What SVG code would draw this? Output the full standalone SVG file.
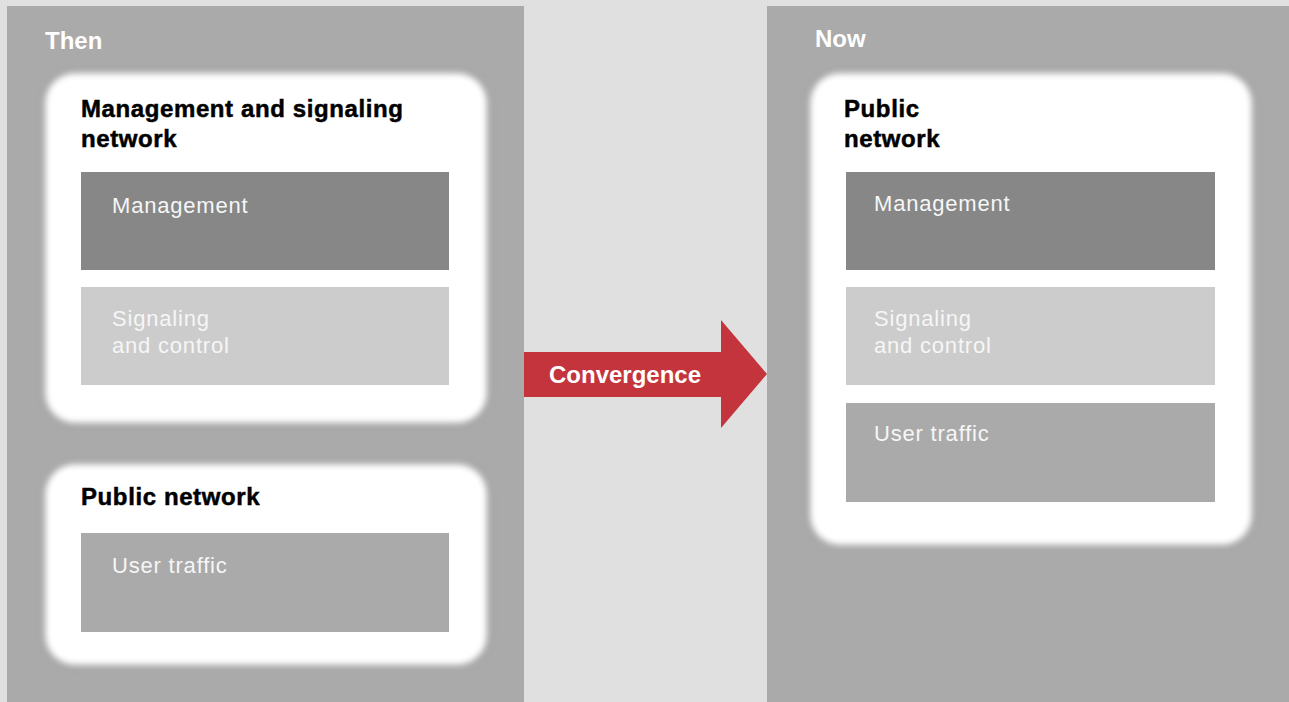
<svg xmlns="http://www.w3.org/2000/svg" width="1289" height="702" viewBox="0 0 1289 702">
  <defs>
    <filter id="soft" x="-10%" y="-10%" width="120%" height="120%">
      <feGaussianBlur stdDeviation="3.2"/>
    </filter>
    <filter id="rim" x="-10%" y="-10%" width="120%" height="120%">
      <feGaussianBlur stdDeviation="4"/>
    </filter>
    <style>
      .panel { fill: #aaaaaa; }
      .card { fill: #ffffff; filter: url(#soft); }
      .cardRim { fill: #8f8f8f; opacity: 0.55; filter: url(#rim); }
      .mgmt { fill: #878787; }
      .sig { fill: #cccccc; }
      .user { fill: #aaaaaa; }
      .head { font-family: "Liberation Sans", Arial, sans-serif; font-weight: bold; font-size: 24px; fill: #ffffff; }
      .title { font-family: "Liberation Sans", Arial, sans-serif; font-weight: bold; font-size: 24px; letter-spacing: 0.6px; fill: #000000; stroke: #000000; stroke-width: 0.5px; }
      .label { font-family: "Liberation Sans", Arial, sans-serif; font-size: 22px; letter-spacing: 0.8px; fill: #f6f6f6; }
    </style>
  </defs>

  <!-- canvas -->
  <rect x="0" y="0" width="1289" height="702" fill="#e0e0e0"/>

  <!-- Then column -->
  <g id="then-panel">
    <rect class="panel" x="7" y="6" width="517" height="696"/>
    <text class="head" x="45" y="49">Then</text>
  </g>

  <g id="then-mgmt-signaling-network">
    <rect class="cardRim" x="44" y="72" width="444" height="352" rx="30"/>
    <rect class="card" x="45" y="73" width="442" height="350" rx="30"/>
    <text class="title" x="81" y="117">Management and signaling</text>
    <text class="title" x="81" y="147">network</text>
    <g id="then-management">
      <rect class="mgmt" x="81" y="172" width="368" height="98"/>
      <text class="label" x="112" y="213">Management</text>
    </g>
    <g id="then-signaling">
      <rect class="sig" x="81" y="287" width="368" height="98"/>
      <text class="label" x="112" y="326">Signaling</text>
      <text class="label" x="112" y="353">and control</text>
    </g>
  </g>

  <g id="then-public-network">
    <rect class="cardRim" x="44" y="463" width="444" height="203" rx="30"/>
    <rect class="card" x="45" y="464" width="442" height="201" rx="30"/>
    <text class="title" x="81" y="505">Public network</text>
    <g id="then-user-traffic">
      <rect class="user" x="81" y="533" width="368" height="99"/>
      <text class="label" x="112" y="573">User traffic</text>
    </g>
  </g>

  <!-- Now column -->
  <g id="now-panel">
    <rect class="panel" x="767" y="6" width="522" height="696"/>
    <text class="head" x="815" y="47">Now</text>
  </g>

  <g id="now-public-network">
    <rect class="cardRim" x="809" y="72" width="444" height="474" rx="30"/>
    <rect class="card" x="810" y="73" width="442" height="472" rx="30"/>
    <text class="title" x="844" y="117">Public</text>
    <text class="title" x="844" y="147">network</text>
    <g id="now-management">
      <rect class="mgmt" x="846" y="172" width="369" height="98"/>
      <text class="label" x="874" y="211">Management</text>
    </g>
    <g id="now-signaling">
      <rect class="sig" x="846" y="287" width="369" height="98"/>
      <text class="label" x="874" y="326">Signaling</text>
      <text class="label" x="874" y="353">and control</text>
    </g>
    <g id="now-user-traffic">
      <rect class="user" x="846" y="403" width="369" height="99"/>
      <text class="label" x="874" y="441">User traffic</text>
    </g>
  </g>

  <!-- transition arrow -->
  <g id="connectors">
    <g id="convergence-arrow">
      <polygon points="524,352 721,352 721,320 767,374 721,428 721,397 524,397" fill="#c4343d"/>
      <text class="head" x="549" y="383">Convergence</text>
    </g>
  </g>
</svg>
